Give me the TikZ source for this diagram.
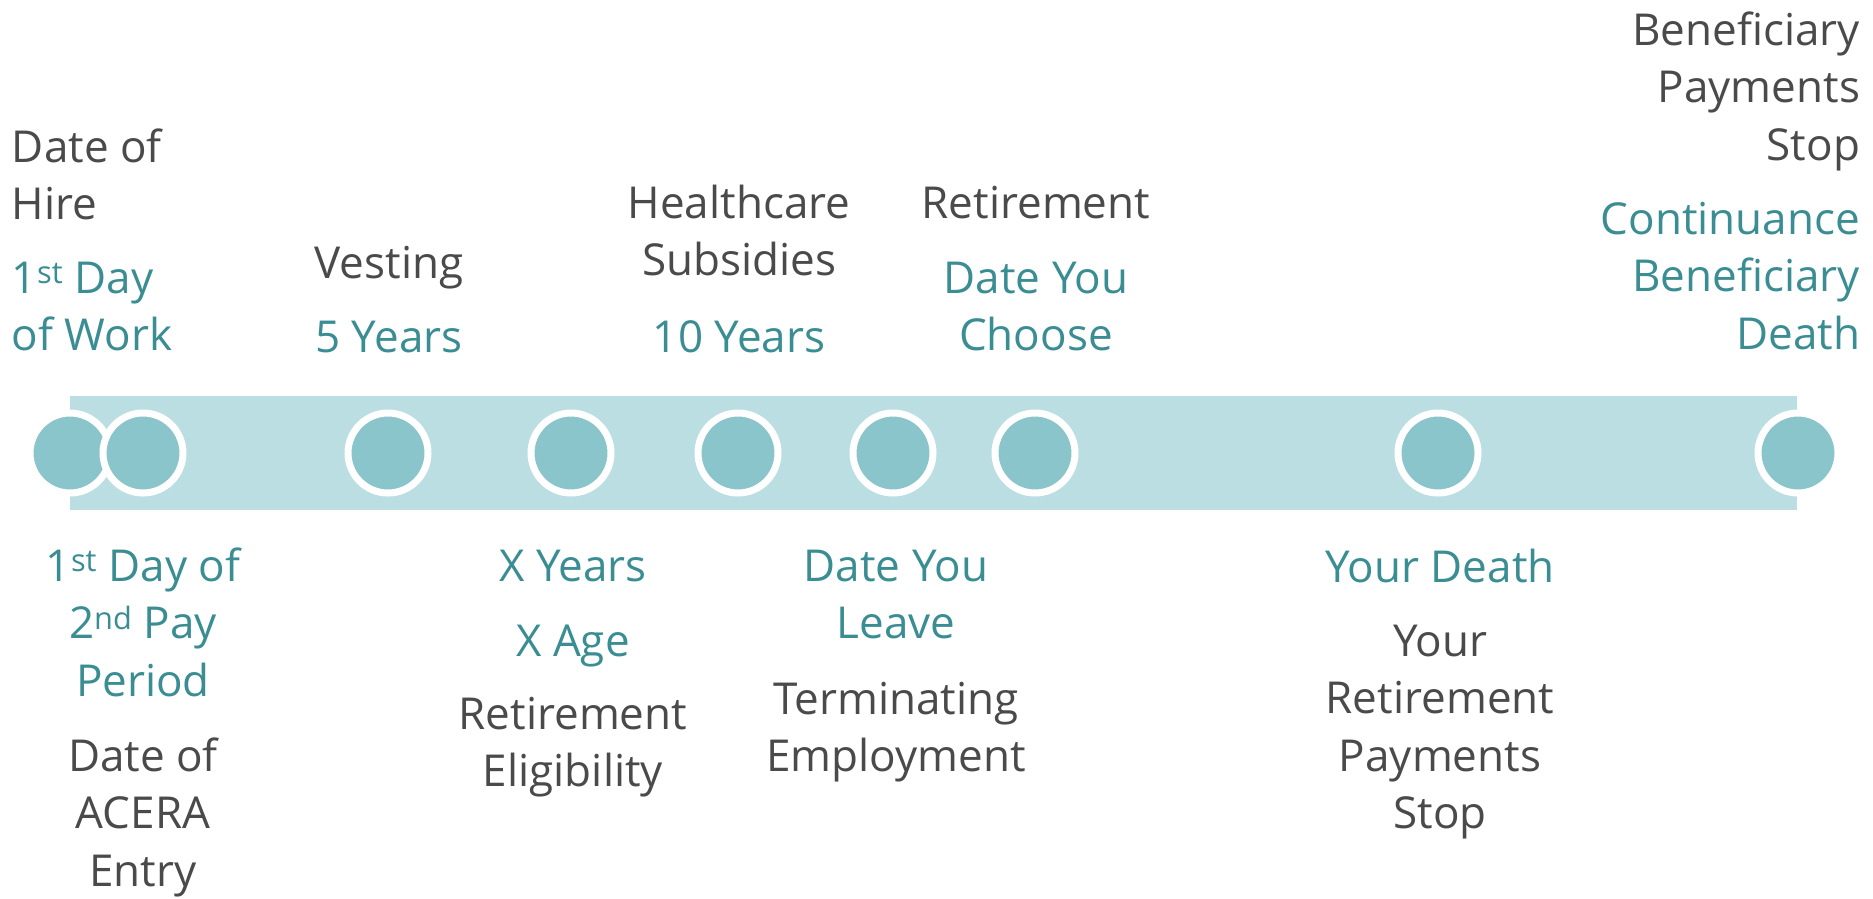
\documentclass[tikz,border=0pt]{standalone}
\usepackage{fontspec}
\setmainfont{Open Sans}
\definecolor{barcol}{HTML}{BADEE1}
\definecolor{dotcol}{HTML}{8BC5CC}
\definecolor{tealtxt}{HTML}{3A8D93}
\definecolor{greytxt}{HTML}{4A4A4A}
\tikzset{
  dot/.style={circle, minimum size=80pt, inner sep=0pt, fill=dotcol, draw=white, line width=7pt},
  lbl/.style={inner sep=0pt, outer sep=0pt, font=\fontsize{44}{57.5}\selectfont},
  grey/.style={lbl, text=greytxt},
  teal/.style={lbl, text=tealtxt},
}
\begin{document}
\begin{tikzpicture}[x=1pt,y=-1pt]
\useasboundingbox (0,0) rectangle (1873,898);
\fill[barcol] (70,396) rectangle (1797,510);
\node[dot] (c1) at (70,453) {};
\node[dot] (c2) at (143,453) {};
\node[dot] (c3) at (388,453) {};
\node[dot] (c4) at (571,453) {};
\node[dot] (c5) at (738,453) {};
\node[dot] (c6) at (893,453) {};
\node[dot] (c7) at (1035,453) {};
\node[dot] (c8) at (1438,453) {};
\node[dot] (c9) at (1798,453) {};
% top labels (north = baseline - 40.25)
\node[grey, anchor=north west, align=left] (t1a) at (12,121.75) {\strut Date of\\Hire};
\node[teal, anchor=north west, align=left] (t1b) at (12,252.75) {\strut 1\textsuperscript{st} Day\\of Work};
\node[grey, anchor=north, align=center] (t2a) at (389,237.75) {\strut Vesting};
\node[teal, anchor=north, align=center] (t2b) at (389,311.75) {\strut 5 Years};
\node[grey, anchor=north, align=center] (t3a) at (739,177.75) {\strut Healthcare\\Subsidies};
\node[teal, anchor=north, align=center] (t3b) at (739,311.75) {\strut 10 Years};
\node[grey, anchor=north, align=center] (t4a) at (1036,177.75) {\strut Retirement};
\node[teal, anchor=north, align=center] (t4b) at (1036,252.75) {\strut Date You\\Choose};
\node[grey, anchor=north east, align=right] (t5a) at (1860,4.75) {\strut Beneficiary\\Payments\\Stop};
\node[teal, anchor=north east, align=right] (t5b) at (1860,193.75) {\strut Continuance\\Beneficiary\\Death};
% bottom labels
\node[teal, anchor=north, align=center] (b1a) at (143,540.75) {\strut 1\textsuperscript{st} Day of\\2\textsuperscript{nd} Pay\\Period};
\node[grey, anchor=north, align=center] (b1b) at (143,730.75) {\strut Date of\\ACERA\\Entry};
\node[teal, anchor=north, align=center] (b2a) at (573,540.75) {\strut X Years};
\node[teal, anchor=north, align=center] (b2b) at (573,615.75) {\strut X Age};
\node[grey, anchor=north, align=center] (b2c) at (573,688.75) {\strut Retirement\\Eligibility};
\node[teal, anchor=north, align=center] (b3a) at (896,540.75) {\strut Date You\\Leave};
\node[grey, anchor=north, align=center] (b3b) at (896,673.75) {\strut Terminating\\Employment};
\node[teal, anchor=north, align=center] (b4a) at (1440,541.75) {\strut Your Death};
\node[grey, anchor=north, align=center] (b4b) at (1440,615.75) {\strut Your\\Retirement\\Payments\\Stop};
\end{tikzpicture}
\end{document}
